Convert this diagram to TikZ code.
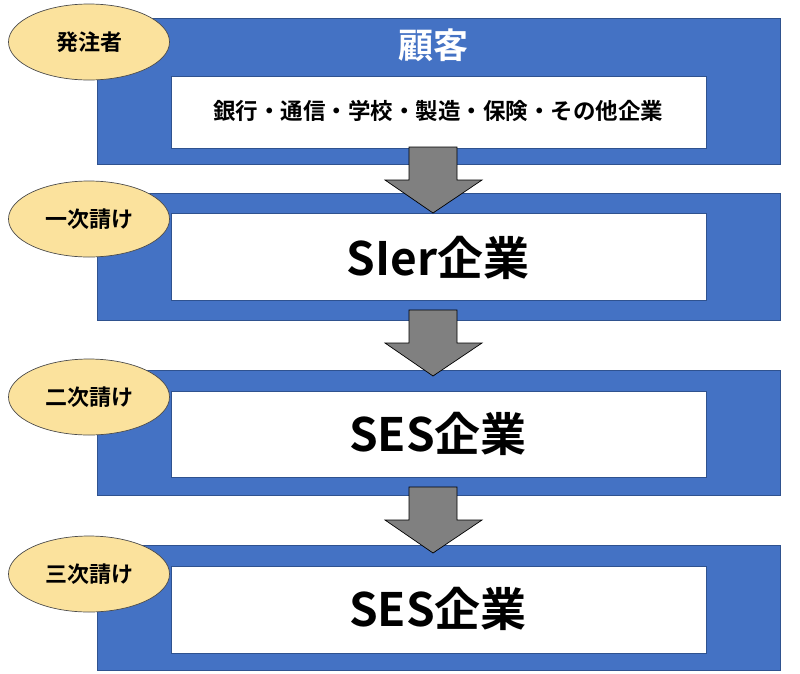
\documentclass[tikz,border=0pt]{standalone}
\usepackage{fontspec}
\newfontfamily\cjk{Noto Sans CJK JP}[BoldFont={Noto Sans CJK JP Bold}]
\usetikzlibrary{shapes.geometric}
\definecolor{boxblue}{HTML}{4472C4}
\definecolor{boxedge}{HTML}{2F528F}
\definecolor{tagfill}{HTML}{FBE29D}
\definecolor{arrgray}{HTML}{808080}
\tikzset{
  outerbox/.style={fill=boxblue, draw=boxedge, line width=0.6pt},
  innerbox/.style={fill=white, draw=boxedge, line width=0.6pt},
  tag/.style={ellipse, fill=tagfill, draw=black!70, line width=0.7pt, minimum width=161pt, minimum height=76pt, inner sep=0pt, font=\cjk\bfseries\fontsize{22}{25}\selectfont},
  bigtext/.style={font=\cjk\bfseries\fontsize{46}{50}\selectfont, inner sep=0pt},
  downarrow/.style={fill=arrgray, draw=black, line width=0.7pt}
}
\begin{document}
\begin{tikzpicture}[x=1pt,y=-1pt]
\useasboundingbox (0,0) rectangle (800,673);
% boxes
\draw[outerbox] (97,18) rectangle (780,164);
\draw[innerbox] (171,76) rectangle (706,148);
\draw[outerbox] (97,193) rectangle (780,320);
\draw[innerbox] (171,213) rectangle (706,300);
\draw[outerbox] (97,370) rectangle (780,495);
\draw[innerbox] (171,391) rectangle (706,477);
\draw[outerbox] (97,545) rectangle (780,670);
\draw[innerbox] (171,566) rectangle (706,653);
% texts
\node[font=\cjk\bfseries\fontsize{35}{40}\selectfont, text=white, inner sep=0pt] (kokyaku) at (433,45) {顧客};
\node[font=\cjk\bfseries\fontsize{22.5}{26}\selectfont, inner sep=0pt] (gyoshu) at (438,111) {銀行・通信・学校・製造・保険・その他企業};
\node[bigtext] (sier) at (438,258) {SIer企業};
\node[bigtext] (ses1) at (438,434) {SES企業};
\node[bigtext] (ses2) at (438,609) {SES企業};
% arrows
\draw[downarrow] (409,147) -- (457,147) -- (457,180) -- (482,180) -- (433,213) -- (385,180) -- (409,180) -- cycle;
\draw[downarrow] (409,310) -- (457,310) -- (457,343) -- (482,343) -- (433,376) -- (385,343) -- (409,343) -- cycle;
\draw[downarrow] (409,487) -- (457,487) -- (457,520) -- (482,520) -- (433,553) -- (385,520) -- (409,520) -- cycle;
% tags
\node[tag] (t1) at (89,42) {発注者};
\node[tag] (t2) at (89,219) {一次請け};
\node[tag] (t3) at (89,397) {二次請け};
\node[tag] (t4) at (89,574) {三次請け};
\end{tikzpicture}
\end{document}
